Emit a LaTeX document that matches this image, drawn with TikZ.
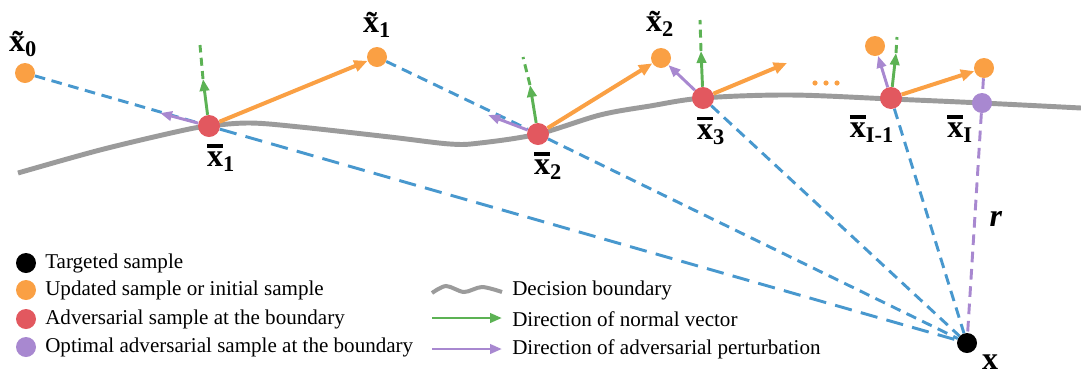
\documentclass[tikz,border=0pt]{standalone}
\usepackage{fontspec}
\setmainfont{Liberation Serif}
\usetikzlibrary{arrows.meta}

\definecolor{sampleorange}{RGB}{250,160,68}
\definecolor{advred}{RGB}{226,88,95}
\definecolor{optpurple}{RGB}{168,136,208}
\definecolor{normgreen}{RGB}{92,178,84}
\definecolor{distblue}{RGB}{72,152,206}
\definecolor{bndgray}{RGB}{155,155,155}

\newcommand{\barx}{\leavevmode\rlap{\rule[0.6em]{0.5em}{0.1em}}x}

\tikzset{
  samplept/.style={circle,inner sep=0pt,minimum size=15pt},
  updpt/.style={samplept,fill=sampleorange},
  advpt/.style={samplept,fill=advred,minimum size=16.5pt},
  optpt/.style={samplept,fill=optpurple},
  tgtpt/.style={samplept,fill=black},
  lbl/.style={font=\fontsize{24}{26}\selectfont\bfseries,inner sep=0pt},
  legtext/.style={font=\fontsize{15.8}{17}\selectfont,anchor=west,inner sep=0pt},
  boundary/.style={bndgray,line width=3.7pt},
  toupd/.style={sampleorange,line width=3pt,-{Triangle[length=10pt,width=8.5pt]}},
  normvec/.style={normgreen,line width=2.2pt,-{Triangle[length=9pt,width=7pt]}},
  normdash/.style={normgreen,line width=2.2pt,dash pattern=on 6pt off 4pt},
  pertvec/.style={optpurple,line width=2.2pt,-{Triangle[length=9pt,width=7pt]}},
  distline/.style={distblue,line width=2.2pt,dash pattern=on 8pt off 5pt},
  distlong/.style={distblue,line width=2.2pt,dash pattern=on 13pt off 7pt},
  rline/.style={optpurple,line width=2.2pt,dash pattern=on 8pt off 5pt},
}

\begin{document}
\begin{tikzpicture}[x=0.75pt,y=-0.75pt]
\useasboundingbox (0,0) rectangle (1081,376);

\draw[boundary] plot[smooth,tension=0.55] coordinates {(18,173) (100,150) (180,131) (209,126) (250,123) (300,127) (390,137) (450,144) (480,143) (538,134) (600,115) (650,106) (703,98) (790,95) (891,99) (982,103) (1081,108)};

% samples
\node[updpt] (xt0) at (25,73) {};
\node[updpt] (xt1) at (377,57) {};
\node[updpt] (xt2) at (661,58) {};
\node[updpt] (xtm) at (875,46) {};
\node[updpt] (xtn) at (984,68) {};
\node[advpt] (xb1) at (209,126) {};
\node[advpt] (xb2) at (538,134) {};
\node[advpt] (xb3) at (703,98) {};
\node[advpt] (xbm) at (891,98) {};
\node[optpt] (xbn) at (982,103) {};
\node[tgtpt] (x) at (967,343) {};

\coordinate (n1) at (203,79);
\coordinate (n1e) at (200,45);
\coordinate (n2) at (530,85);
\coordinate (n2e) at (523,57);
\coordinate (n3) at (701,51);
\coordinate (n3e) at (700,20);
\coordinate (nm) at (896,53);
\coordinate (nme) at (897,37);
\coordinate (p1) at (160,113);
\coordinate (p2) at (488,115);
\coordinate (u3) at (787,63);

% distances to x
\draw[distline] (xt0) -- (xb1);
\draw[distlong] (xb1) -- (x);
\draw[distline] (xt1) -- (xb2);
\draw[distline] (xb2) -- (x);
\draw[distline] (xb3) -- (x);
\draw[distline] (xbm) -- (x);
\draw[rline] (xtn) -- (xbn);
\draw[rline] (xbn) -- (x);

% steps
\draw[toupd] (xb1) -- (xt1);
\draw[toupd] (xb2) -- (xt2);
\draw[toupd] (xb3) -- (u3);
\draw[toupd] (xbm) -- (xtn);
\draw[pertvec] (xb1) -- (p1);
\draw[pertvec] (xb2) -- (p2);
\draw[pertvec] (xb3) -- (xt2);
\draw[pertvec] (xbm) -- (xtm);
\draw[normvec] (xb1) -- (n1);
\draw[normdash] (n1) -- (n1e);
\draw[normvec] (xb2) -- (n2);
\draw[normdash] (n2) -- (n2e);
\draw[normvec] (xb3) -- (n3);
\draw[normdash] (n3) -- (n3e);
\draw[normvec] (xbm) -- (nm);
\draw[normdash] (nm) -- (nme);

\fill[sampleorange] (815,83) circle [radius=2.6] (826,83) circle [radius=2.6] (837,83) circle [radius=2.6];

% labels
\node[lbl] (lt0) at (23,44) {\~{x}\textsubscript{0}};
\node[lbl] (lt1) at (377,25) {\~{x}\textsubscript{1}};
\node[lbl] (lt2) at (660,24) {\~{x}\textsubscript{2}};
\node[lbl] (lb1) at (221,158) {\barx\textsubscript{1}};
\node[lbl] (lb2) at (548,166) {\barx\textsubscript{2}};
\node[lbl] (lb3) at (711,131) {\barx\textsubscript{3}};
\node[lbl] (lbm) at (872,129) {\barx\textsubscript{I-1}};
\node[lbl] (lbn) at (960,129) {\barx\textsubscript{I}};
\node[lbl] (lx) at (990,362) {x};
\node[lbl] (lr) at (996,219) {\textit{r}};

% legend
\node[tgtpt] (lg0) at (26,263) {};
\node[updpt] (lg1) at (26,290) {};
\node[advpt,minimum size=15pt] (lg2) at (26,319) {};
\node[optpt] (lg3) at (26,347) {};
\node[legtext] (lgt0) at (45,263) {Targeted sample};
\node[legtext] (lgt1) at (45,290) {Updated sample or initial sample};
\node[legtext] (lgt2) at (45,319) {Adversarial sample at the boundary};
\node[legtext] (lgt3) at (45,347) {Optimal adversarial sample at the boundary};

\draw[bndgray,line width=3pt] plot[smooth] coordinates {(432,293) (446,286) (464,292) (482,287) (502,292)};
\coordinate (ga) at (432,318);
\coordinate (gb) at (502,318);
\coordinate (pa) at (432,349);
\coordinate (pb) at (502,349);
\draw[normvec] (ga) -- (gb);
\draw[pertvec] (pa) -- (pb);
\node[legtext] (lgt4) at (512,290) {Decision boundary};
\node[legtext] (lgt5) at (512,319) {Direction of normal vector};
\node[legtext] (lgt6) at (512,349) {Direction of adversarial perturbation};
\end{tikzpicture}
\end{document}
